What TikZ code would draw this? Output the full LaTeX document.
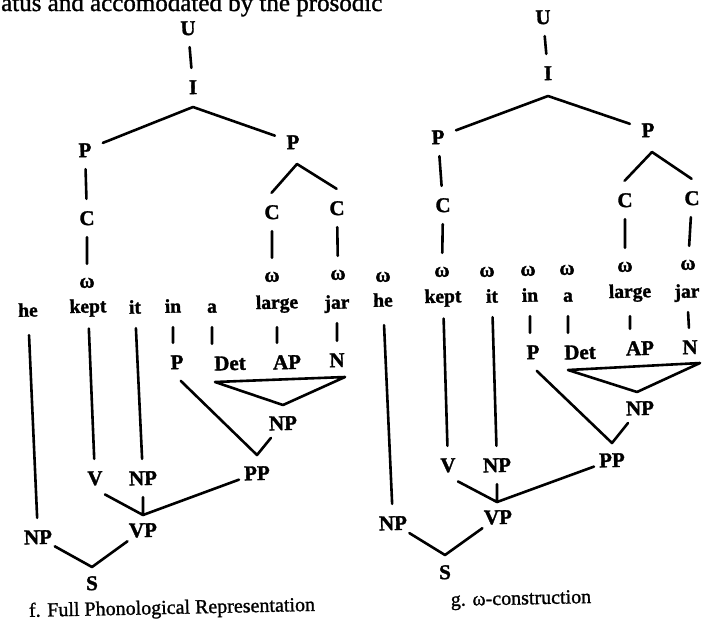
\documentclass[tikz,border=0pt]{standalone}
\usepackage{fontspec}
\setmainfont{Liberation Serif}[BoldFeatures={FakeBold=1.5}]
\newfontfamily\heavyserif{Liberation Serif}[FakeBold=1.2]
\begin{document}
\begin{tikzpicture}[x=1pt,y=-1pt,
  txt/.style={inner sep=0pt, rotate=1.2},
  lab/.style={txt, circle, minimum size=38pt, font=\fontsize{21}{21}\selectfont\bfseries, text height=14.2pt, text depth=0pt},
  word/.style={txt, circle, minimum size=38pt, font=\fontsize{19.5}{19.5}\selectfont\bfseries, text height=13.6pt, text depth=4.3pt},
  om/.style={lab, text height=9.5pt},
  edge/.style={line width=2.6pt, line cap=round, line join=round},
  caption/.style={txt, font=\fontsize{20}{20}\selectfont\heavyserif},
]
\path[use as bounding box] (0,0) rectangle (706,633);
\clip (0,0) rectangle (706,633);

% running text above the figures
\node[inner sep=0pt, anchor=base west, font=\fontsize{25}{25}\selectfont\heavyserif] (head) at (1,11) {atus and accomodated by the prosodic};

% ---------------- f. Full Phonological Representation ----------------
% prosodic structure
\node[lab] (aU) at (188,28) {U};
\node[lab] (aI) at (193,87) {I};
\coordinate (aIx) at (193,107);
\node[lab] (aP1) at (85,150) {P};
\node[lab] (aP2) at (293,142) {P};
\coordinate (aP2x) at (297,164);
\node[lab] (aC1) at (87,218) {C};
\node[lab] (aC2) at (272,212) {C};
\node[lab] (aC3) at (337,208) {C};
\node[om] (aw1) at (87,283) {ω};
\node[om] (aw2) at (272,277) {ω};
\node[om] (aw3) at (338,275) {ω};
% words
\node[word] (ahe) at (28,312) {he};
\node[word] (akept) at (88,308) {kept};
\node[word] (ait) at (135,309) {it};
\node[word] (ain) at (173,308) {in};
\node[word] (aa) at (212,308) {a};
\node[word] (alarge) at (277,304) {large};
\node[word] (ajar) at (337,304) {jar};
% syntactic structure
\node[lab] (aP) at (177,362) {P};
\node[lab] (aDet) at (230,363) {Det};
\node[lab] (aAP) at (287,362) {AP};
\node[lab] (aN) at (337,360) {N};
\coordinate (aTl) at (215,382);
\coordinate (aTr) at (345,377);
\coordinate (aNPx) at (283,405);
\node[lab] (aNP2) at (283,423) {NP};
\coordinate (aPPx) at (257,455);
\node[lab] (aPP) at (257,473) {PP};
\node[lab] (aV) at (95,478) {V};
\node[lab] (aNP1) at (143,478) {NP};
\coordinate (aVPx) at (143,515);
\node[lab] (aVP) at (143,530) {VP};
\node[lab] (aNP0) at (38,537) {NP};
\coordinate (aSx) at (92,567);
\node[lab] (aS) at (92,583) {S};
\node[caption] (acap) at (172,609) {f. Full Phonological Representation};

\draw[edge] (aU) -- (aI);
\draw[edge] (aP1) -- (aIx) -- (aP2);
\draw[edge] (aP1) -- (aC1);
\draw[edge] (aC1) -- (aw1);
\draw[edge] (aC2.north) -- (aP2x) -- (aC3.north);
\draw[edge] (aC2) -- (aw2);
\draw[edge] (aC3) -- (aw3);
\draw[edge, shorten <=4pt] (ahe) -- (aNP0);
\draw[edge] (akept) -- (aV);
\draw[edge] (ait) -- (aNP1);
\draw[edge] (ain) -- (ain |- aP.north);
\draw[edge] (aa) -- (aa |- aDet.north);
\draw[edge] (alarge) -- (alarge |- aAP.north);
\draw[edge] (ajar) -- (aN);
\draw[edge] (aTl) -- (aTr) -- (aNPx) -- cycle;
\draw[edge] (aP.-80) -- (aPPx) -- (aNP2);
\draw[edge] (aV.-60) -- (aVPx) -- (aNP1);
\draw[edge] (aPP) -- (aVPx);
\draw[edge] (aNP0) -- (aSx) -- (aVP);

% ---------------- g. omega-construction ----------------
\node[lab] (bU) at (543,17) {U};
\node[lab] (bI) at (548,73) {I};
\coordinate (bIx) at (548,96);
\node[lab] (bP1) at (438,137) {P};
\node[lab] (bP2) at (648,130) {P};
\coordinate (bP2x) at (652,152);
\node[lab] (bC1) at (443,205) {C};
\node[lab] (bC2) at (625,200) {C};
\node[lab] (bC3) at (692,198) {C};
\node[om] (bw0) at (383,277) {ω};
\node[om] (bw1) at (442,272) {ω};
\node[om] (bw2) at (487,272) {ω};
\node[om] (bw3) at (528,271) {ω};
\node[om] (bw4) at (567,270) {ω};
\node[om] (bw5) at (625,267) {ω};
\node[om] (bw6) at (688,265) {ω};
\node[word] (bhe) at (383,302) {he};
\node[word] (bkept) at (443,298) {kept};
\node[word] (bit) at (492,298) {it};
\node[word] (bin) at (530,297) {in};
\node[word] (ba) at (568,297) {a};
\node[word] (blarge) at (630,293) {large};
\node[word] (bjar) at (687,293) {jar};
\node[lab] (bP) at (533,352) {P};
\node[lab] (bDet) at (580,352) {Det};
\node[lab] (bAP) at (640,348) {AP};
\node[lab] (bN) at (690,347) {N};
\coordinate (bTl) at (568,370);
\coordinate (bTr) at (700,363);
\coordinate (bNPx) at (637,392);
\node[lab] (bNP2) at (640,408) {NP};
\coordinate (bPPx) at (612,443);
\node[lab] (bPP) at (612,460) {PP};
\node[lab] (bV) at (448,465) {V};
\node[lab] (bNP1) at (497,465) {NP};
\coordinate (bVPx) at (497,502);
\node[lab] (bVP) at (498,517) {VP};
\node[lab] (bNP0) at (393,523) {NP};
\coordinate (bSx) at (445,555);
\node[lab] (bS) at (445,572) {S};
\node[caption] (bcap) at (521,600) {g. ω-construction};

\draw[edge] (bU) -- (bI);
\draw[edge] (bP1) -- (bIx) -- (bP2);
\draw[edge] (bP1) -- (bC1);
\draw[edge] (bC1) -- (bw1);
\draw[edge] (bC2.north) -- (bP2x) -- (bC3.north);
\draw[edge] (bC2) -- (bw5);
\draw[edge] (bC3) -- (bw6);
\draw[edge, shorten <=4pt] (bhe) -- (bNP0);
\draw[edge] (bkept) -- (bV);
\draw[edge] (bit) -- (bNP1);
\draw[edge] (bin) -- (bin |- bP.north);
\draw[edge] (ba) -- (ba |- bDet.north);
\draw[edge] (blarge) -- (blarge |- bAP.north);
\draw[edge] (bjar) -- (bN);
\draw[edge] (bTl) -- (bTr) -- (bNPx) -- cycle;
\draw[edge] (bP.-80) -- (bPPx) -- (bNP2);
\draw[edge] (bV.-60) -- (bVPx) -- (bNP1);
\draw[edge] (bPP) -- (bVPx);
\draw[edge] (bNP0) -- (bSx) -- (bVP);
\end{tikzpicture}
\end{document}
